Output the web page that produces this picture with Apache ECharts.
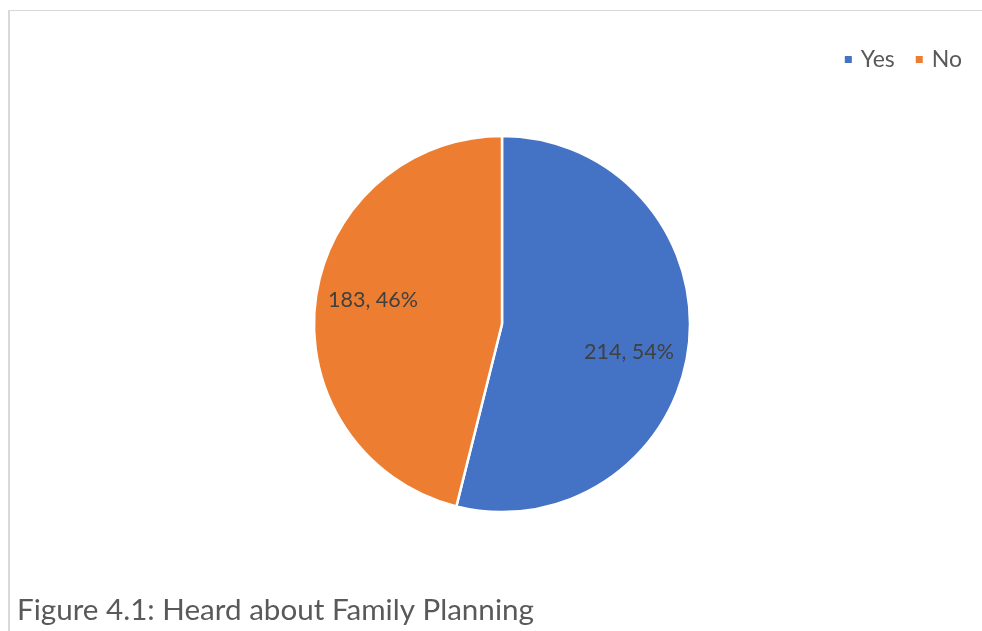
<!DOCTYPE html>
<html>
<head>
<meta charset="utf-8">
<script src="https://cdn.jsdelivr.net/npm/echarts@6/dist/echarts.min.js"></script>
<style>
html,body{margin:0;padding:0;background:#fff;}
#frame{position:absolute;left:8px;top:10px;width:974px;height:621px;border-top:1px solid #d9d9d9;border-left:2px solid #d9d9d9;box-sizing:border-box;}
#chart{position:absolute;left:0;top:0;width:982px;height:631px;}
</style>
</head>
<body>
<div id="frame"></div>
<div id="chart"></div>
<script>
const categories = ['Yes', 'No'];
const counts = [214, 183];
const percentLabels = ['54%', '46%'];
const colors = ['#4472C4', '#ED7D31'];
const titleText = 'Figure 4.1: Heard about Family Planning';

const labelOffsets = [[-5, 12], [3, -8]];
const FONT = 'Lato';

const chart = echarts.init(document.getElementById('chart'), null, {renderer: 'canvas'});
const pieData = categories.map((c, i) => ({name: c, value: counts[i], itemStyle: {color: colors[i]}}));

chart.setOption({
  animation: false,
  backgroundColor: 'transparent',
  title: {
    text: titleText,
    left: 12, top: 590,
    textStyle: {fontFamily: FONT, fontSize: 29.6, fontWeight: 'normal', color: '#595959'}
  },
  legend: {
    data: categories,
    right: 15, top: 43,
    icon: 'rect', itemWidth: 9, itemHeight: 9, itemGap: 19,
    textStyle: {fontFamily: FONT, fontSize: 23, color: '#595959', padding: [0, 0, 0, 3]}
  },
  series: [
    {
      type: 'pie',
      center: [502, 324],
      radius: [0, 188],
      startAngle: 90,
      clockwise: true,
      silent: true,
      label: {show: false},
      labelLine: {show: false},
      itemStyle: {borderColor: '#fff', borderWidth: 2.5},
      data: pieData
    },
    {
      type: 'pie',
      center: [502, 324],
      radius: [118, 142],
      startAngle: 90,
      clockwise: true,
      silent: true,
      legendHoverLink: false,
      itemStyle: {color: 'rgba(0,0,0,0)'},
      label: {
        show: true, position: 'inside',
        fontFamily: FONT, fontSize: 21.5, color: '#404040'
      },
      labelLine: {show: false},
      data: categories.map((c, i) => ({
        name: c + ' ', value: counts[i],
        label: {formatter: counts[i] + ', ' + percentLabels[i], offset: labelOffsets[i]}
      }))
    }
  ]
});
</script>
</body>
</html>
